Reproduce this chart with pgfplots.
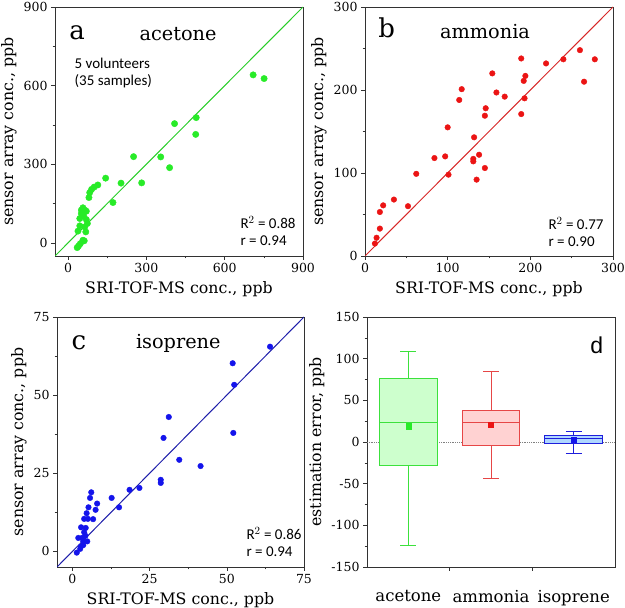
\documentclass[border=0pt]{standalone}
\usepackage{fontspec}
\setmainfont{DejaVu Serif}
\usepackage{pgfplots}
\pgfplotsset{compat=1.18}
\usepgfplotslibrary{statistics}
\newfontfamily\carlito{Carlito}
\newfontfamily\arialf{Liberation Sans}
\definecolor{gpt}{RGB}{40,235,40}
\definecolor{gln}{RGB}{40,205,40}
\definecolor{rpt}{RGB}{235,20,20}
\definecolor{rln}{RGB}{215,40,40}
\definecolor{bpt}{RGB}{20,20,235}
\definecolor{bln}{RGB}{30,30,170}
\definecolor{frm}{RGB}{50,50,50}
\definecolor{gfill}{RGB}{205,255,205}
\definecolor{gedge}{RGB}{60,225,60}
\definecolor{rfill}{RGB}{255,210,210}
\definecolor{redge}{RGB}{230,70,70}
\definecolor{bfill}{RGB}{175,215,255}
\definecolor{bedge}{RGB}{30,30,220}
\pgfplotsset{
  panel/.style={scale only axis, width=248pt, height=249pt, anchor=south west,
    axis line style={frm}, tick align=outside, tick pos=left, minor tick num=1,
    major tick length=4pt, minor tick length=2.5pt, every tick/.style={frm},
    /pgf/number format/assume math mode=true,
    tick label style={font=\fontsize{12.5}{13}\selectfont},
    label style={font=\fontsize{15.8}{17}\selectfont},
    xlabel style={yshift=-2pt},
    xlabel={SRI-TOF-MS conc., ppb}, ylabel={sensor array conc., ppb}},
}
\tikzset{
  letter/.style={font=\fontsize{26}{26}\selectfont},
  gas/.style={font=\fontsize{19.3}{20}\selectfont},
  stat/.style={font=\carlito\fontsize{15}{17}\selectfont, align=left, anchor=west},
}
\begin{document}
\begin{tikzpicture}
\useasboundingbox (0,0) rectangle (625pt,608pt);
% ---------- a ----------
\begin{axis}[panel, at={(55pt,352pt)}, xmin=-50, xmax=900, ymin=-50, ymax=900,
  xtick={0,300,600,900}, ytick={0,300,600,900}]
\addplot[gln, line width=1pt] coordinates {(-50,-50) (900,900)};
\addplot[only marks, mark=*, mark size=3.2pt, gpt, mark options={draw=gpt, fill=gpt}] table {
x y
709 641
751 627
491 478
489 414
408 455
389 287
355 328
251 329
282 229
203 228
172 154
144 247
114 221
100 213
90 204
83 192
80 173
57 134
51 125
70 121
64 125
51 112
60 102
45 93
70 89
74 74
45 65
64 61
38 45
68 42
57 10
62 8
47 -3
40 -12
35 -18
};
\node[letter] at (axis description cs:0.089,0.896) {a};
\node[gas] at (axis description cs:0.496,0.892) {acetone};
\node[stat] at (axis description cs:0.065,0.733) {5 volunteers\\(35 samples)};
\node[stat] at (axis description cs:0.734,0.10) {R$^{2}$ = 0.88\\r = 0.94};
\end{axis}
% ---------- b ----------
\begin{axis}[panel, at={(365pt,352pt)}, xmin=0, xmax=300, ymin=0, ymax=300,
  xtick={0,100,200,300}, ytick={0,100,200,300}]
\addplot[rln, line width=1pt] coordinates {(0,0) (300,300)};
\addplot[only marks, mark=*, mark size=2.8pt, mark options={draw=rpt, fill=rpt}] table {
x y
260 248
278 237
240 237
219 232
189 238
194 217
192 211
265 210
193 190
189 171
169 192
159 197
154 220
146 178
145 169
117 201
114 188
100 155
132 143
131 117
131 114
138 122
145 106
135 92
97 120
84 118
101 98
62 99
52 60
35 68
22 61
18 53
18 33
14 22
12 15
};
\node[letter] at (axis description cs:0.087,0.916) {b};
\node[gas] at (axis description cs:0.484,0.90) {ammonia};
\node[stat] at (axis description cs:0.726,0.096) {R$^{2}$ = 0.77\\r = 0.90};
\end{axis}
% ---------- c ----------
\begin{axis}[panel, at={(57pt,41pt)}, width=247pt, height=250pt, xmin=-5, xmax=75, ymin=-5, ymax=75,
  xtick={0,25,50,75}, ytick={0,25,50,75}]
\addplot[bln, line width=1pt] coordinates {(-5,-5) (75,75)};
\addplot[only marks, mark=*, mark size=2.8pt, mark options={draw=bpt, fill=bpt}] table {
x y
64 65.5
51.9 60.2
52.4 53.3
52.1 37.9
31.2 43
29.5 36.3
34.6 29.3
41.5 27.3
28.6 22.9
28.6 21.9
21.7 20.3
18.5 19.7
12.7 17.1
15.1 14.1
6.1 18.9
5.7 17.1
8 15.3
7.5 13.3
5.2 14.1
4.6 12.2
3.8 10.4
5 10.4
6.7 10.3
2.8 7.7
4.3 7.5
3.8 6.1
4.2 5
1.9 4.3
3.1 4.3
3.5 3.2
4.8 3.2
3.5 2
2.7 1.5
2.5 0.8
1.4 -0.4
};
\node[letter] at (axis description cs:0.089,0.895) {c};
\node[gas] at (axis description cs:0.491,0.895) {isoprene};
\node[stat] at (axis description cs:0.753,0.10) {R$^{2}$ = 0.86\\r = 0.94};
\end{axis}
% ---------- d ----------
\begin{axis}[panel, at={(367pt,41pt)}, width=248pt, height=250pt,
  xmin=0, xmax=3, ymin=-150, ymax=150,
  ytick={-150,-100,-50,0,50,100,150}, xtick={1,2}, xticklabels={}, minor x tick num=0,
  extra x ticks={0.5,1.5,2.5}, extra x tick labels={acetone,ammonia,isoprene},
  extra x tick style={major tick length=0pt, tick label style={font=\fontsize{16.5}{17}\selectfont, yshift=-20pt}},
  xlabel={}, ylabel={estimation error, ppb}, boxplot/draw direction=y]
\addplot[gray, densely dotted, line width=0.8pt] coordinates {(0,0) (3,0)};
\addplot[gedge, line width=1pt, fill=gfill, boxplot prepared={lower whisker=-124, lower quartile=-28, median=23, upper quartile=76, upper whisker=108, draw position=0.5, box extend=0.7, whisker extend=0.19}] coordinates {};
\addplot[redge, line width=1pt, fill=rfill, boxplot prepared={lower whisker=-44, lower quartile=-4, median=23, upper quartile=38, upper whisker=84, draw position=1.5, box extend=0.7, whisker extend=0.19}] coordinates {};
\addplot[bedge, line width=1pt, fill=bfill, boxplot prepared={lower whisker=-14, lower quartile=-2, median=4, upper quartile=8, upper whisker=13, draw position=2.5, box extend=0.7, whisker extend=0.19}] coordinates {};
\addplot[only marks, mark=square*, mark size=2.6pt, mark options={draw=gpt, fill=gpt}] coordinates {(0.5,19)};
\addplot[only marks, mark=square*, mark size=2.6pt, mark options={draw=rpt, fill=rpt}] coordinates {(1.5,21)};
\addplot[only marks, mark=square*, mark size=2.6pt, mark options={draw=bpt, fill=bpt}] coordinates {(2.5,3)};
\node[font=\arialf\fontsize{23}{23}\selectfont] at (axis description cs:0.926,0.888) {d};
\end{axis}
\end{tikzpicture}
\end{document}
